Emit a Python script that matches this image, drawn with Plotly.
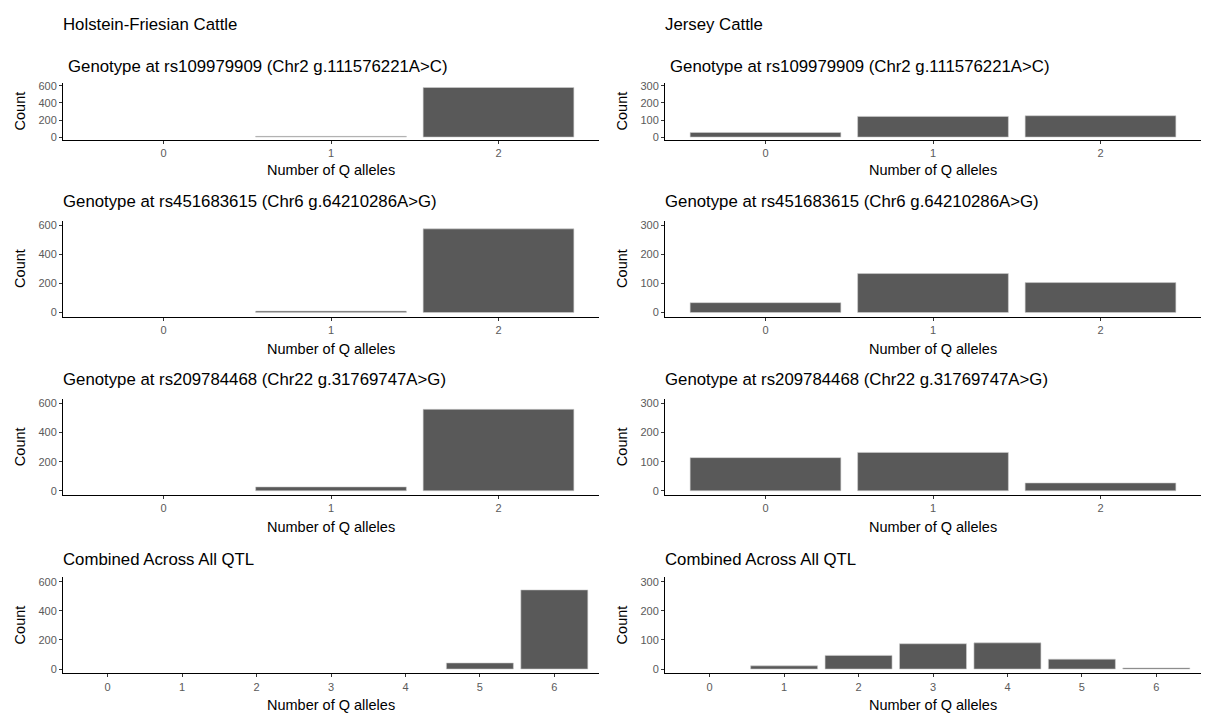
import plotly.graph_objects as go

# ---- data ----
alleles_snp = [0, 1, 2]
alleles_combined = [0, 1, 2, 3, 4, 5, 6]

holstein_rs109979909 = [0, 9, 580]
holstein_rs451683615 = [0, 10, 575]
holstein_rs209784468 = [0, 27, 560]
holstein_combined = [0, 0, 0, 0, 0, 42, 544]

jersey_rs109979909 = [27, 121, 125]
jersey_rs451683615 = [34, 134, 103]
jersey_rs209784468 = [114, 132, 27]
jersey_combined = [0, 11, 47, 87, 90, 34, 4]

column_titles = ["Holstein-Friesian Cattle", "Jersey Cattle"]
panel_titles = [
    "Genotype at rs109979909 (Chr2 g.111576221A>C)",
    "Genotype at rs451683615 (Chr6 g.64210286A>G)",
    "Genotype at rs209784468 (Chr22 g.31769747A>G)",
    "Combined Across All QTL",
]
x_title = "Number of Q alleles"
y_title = "Count"
left_yticks = [0, 200, 400, 600]
right_yticks = [0, 100, 200, 300]

panels = [
    # (column, row, x, y)
    (0, 0, alleles_snp, holstein_rs109979909),
    (0, 1, alleles_snp, holstein_rs451683615),
    (0, 2, alleles_snp, holstein_rs209784468),
    (0, 3, alleles_combined, holstein_combined),
    (1, 0, alleles_snp, jersey_rs109979909),
    (1, 1, alleles_snp, jersey_rs451683615),
    (1, 2, alleles_snp, jersey_rs209784468),
    (1, 3, alleles_combined, jersey_combined),
]

# ---- layout geometry (pixels) ----
W, H = 1215, 720
col_x = [(63, 599), (665, 1201)]
row_y = [(80, 137), (219, 316), (399, 496), (579, 676)]
sub_y = [63, 199, 379, 561]
xt_y = [168, 348, 528, 708]
sub_x_offset = [5, 0, 0, 0]
FONT = "Liberation Sans, Arial, Helvetica, sans-serif"

def fx(px):
    return px / W

def fy(px):
    return 1 - px / H

fig = go.Figure()
layout = dict(
    width=W, height=H,
    margin=dict(l=0, r=0, t=0, b=0),
    paper_bgcolor="white", plot_bgcolor="white",
    showlegend=False,
    font=dict(family=FONT, color="black"),
    bargap=0.1,
)
annotations = []

for i, (c, r, xs, ys) in enumerate(panels):
    k = i + 1
    xa = "x" if k == 1 else f"x{k}"
    ya = "y" if k == 1 else f"y{k}"
    yvals = [v if v > 0 else None for v in ys]
    fig.add_trace(go.Bar(
        x=xs, y=yvals, xaxis=xa, yaxis=ya,
        width=0.9,
        marker=dict(color="#595959", line=dict(color="#D0D0D0", width=0.6)),
        hoverinfo="x+y",
    ))
    n = len(xs)
    yticks = left_yticks if c == 0 else right_yticks
    ymax = yticks[-1]
    x0, x1 = col_x[c]
    yt, yb = row_y[r]
    layout["xaxis" if k == 1 else f"xaxis{k}"] = dict(
        domain=[fx(x0), fx(x1)], anchor=ya,
        range=[-0.6, n - 1 + 0.6],
        tickvals=xs, ticktext=[str(v) for v in xs],
        showline=True, linecolor="black", linewidth=1.1,
        ticks="outside", ticklen=3, tickcolor="#333333", tickwidth=1,
        tickfont=dict(size=11, color="#5a5a5a", family=FONT),
        showgrid=False, zeroline=False, fixedrange=True,
    )
    layout["yaxis" if k == 1 else f"yaxis{k}"] = dict(
        domain=[fy(yb), fy(yt)], anchor=xa,
        range=[-0.05 * ymax, 1.05 * ymax],
        tickvals=yticks,
        showline=True, linecolor="black", linewidth=1.1,
        ticks="outside", ticklen=3, tickcolor="#333333", tickwidth=1,
        tickfont=dict(size=11, color="#5a5a5a", family=FONT),
        showgrid=False, zeroline=False, fixedrange=True,
    )
    # panel title
    annotations.append(dict(
        text=panel_titles[r], xref="paper", yref="paper",
        x=fx(x0 + sub_x_offset[r] - 2), y=fy(sub_y[r]),
        xanchor="left", yanchor="middle", showarrow=False,
        font=dict(size=16.8, color="black", family=FONT),
    ))
    # x title
    annotations.append(dict(
        text=x_title, xref="paper", yref="paper",
        x=fx((x0 + x1) / 2), y=fy(xt_y[r]),
        xanchor="center", yanchor="middle", showarrow=False,
        font=dict(size=14.5, color="black", family=FONT),
    ))
    # y title
    annotations.append(dict(
        text=y_title, xref="paper", yref="paper",
        x=fx(x0 - 43), y=fy((yt + yb) / 2),
        xanchor="center", yanchor="middle", showarrow=False, textangle=-90,
        font=dict(size=14.5, color="black", family=FONT),
    ))

for c, t in enumerate(column_titles):
    annotations.append(dict(
        text=t, xref="paper", yref="paper",
        x=fx(col_x[c][0] - 2), y=fy(21),
        xanchor="left", yanchor="middle", showarrow=False,
        font=dict(size=16.8, color="black", family=FONT),
    ))

layout["annotations"] = annotations
fig.update_layout(**layout)
fig.write_html("out.html")
